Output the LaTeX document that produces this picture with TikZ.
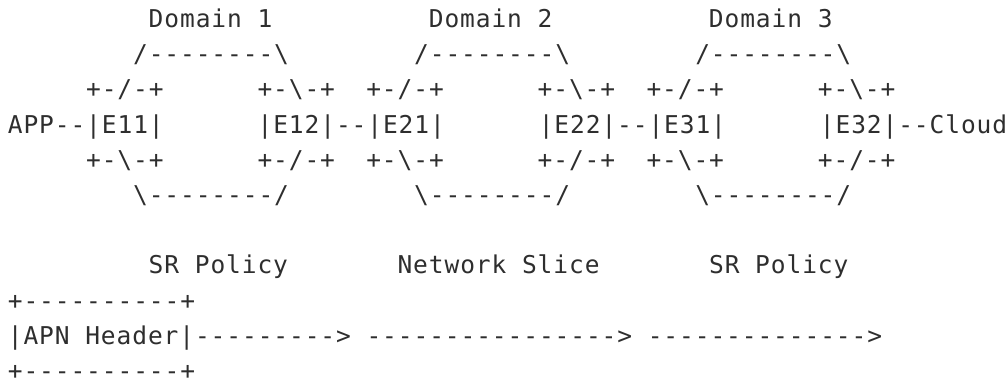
\documentclass[tikz,border=0pt]{standalone}
\usepackage{fontspec}
\setmonofont[LetterSpace=3.7]{DejaVu Sans Mono}
\usepackage{tikz}
\usetikzlibrary{positioning}
\newlength{\cw}
\setlength{\cw}{11.74pt}
\newcommand{\g}[1]{\hspace*{#1\cw}}
\newcommand{\bs}{\textbackslash}
\tikzstyle{ascii}=[font=\ttfamily\fontsize{18.4pt}{26.4pt}\selectfont,anchor=base west,inner sep=0pt,text=black!82]
\begin{document}
\begin{tikzpicture}[x=0.75pt,y=-0.75pt]
	\useasboundingbox (0,0) rectangle (1008,385);
	\node[ascii] (domains) at (7.6,27.5) {\g{9}Domain\g{1}1\g{10}Domain\g{1}2\g{10}Domain\g{1}3};
	\node[ascii] (roofs) at (7.6,62.7) {\g{8}/--------\bs\g{8}/--------\bs\g{8}/--------\bs};
	\node[ascii] (boxtops) at (7.6,97.9) {\g{5}+-/-+\g{6}+-\bs-+\g{2}+-/-+\g{6}+-\bs-+\g{2}+-/-+\g{6}+-\bs-+};
	\node[ascii] (edges) at (7.6,133.1) {APP--|E11|\g{6}|E12|--|E21|\g{6}|E22|--|E31|\g{6}|E32|--Cloud};
	\node[ascii] (boxbottoms) at (7.6,168.3) {\g{5}+-\bs-+\g{6}+-/-+\g{2}+-\bs-+\g{6}+-/-+\g{2}+-\bs-+\g{6}+-/-+};
	\node[ascii] (floors) at (7.6,203.5) {\g{8}\bs--------/\g{8}\bs--------/\g{8}\bs--------/};
	% path labels
	\node[ascii] (policies) at (7.6,273.9) {\g{9}SR\g{1}Policy\g{7}Network\g{1}Slice\g{7}SR\g{1}Policy};
	\node[ascii] (hdrtop) at (7.6,309.1) {+----------+};
	\node[ascii] (hdr) at (7.6,344.3) {|APN\g{1}Header|--------->\g{1}---------------->\g{1}-------------->};
	\node[ascii] (hdrbottom) at (7.6,379.5) {+----------+};
\end{tikzpicture}
\end{document}
